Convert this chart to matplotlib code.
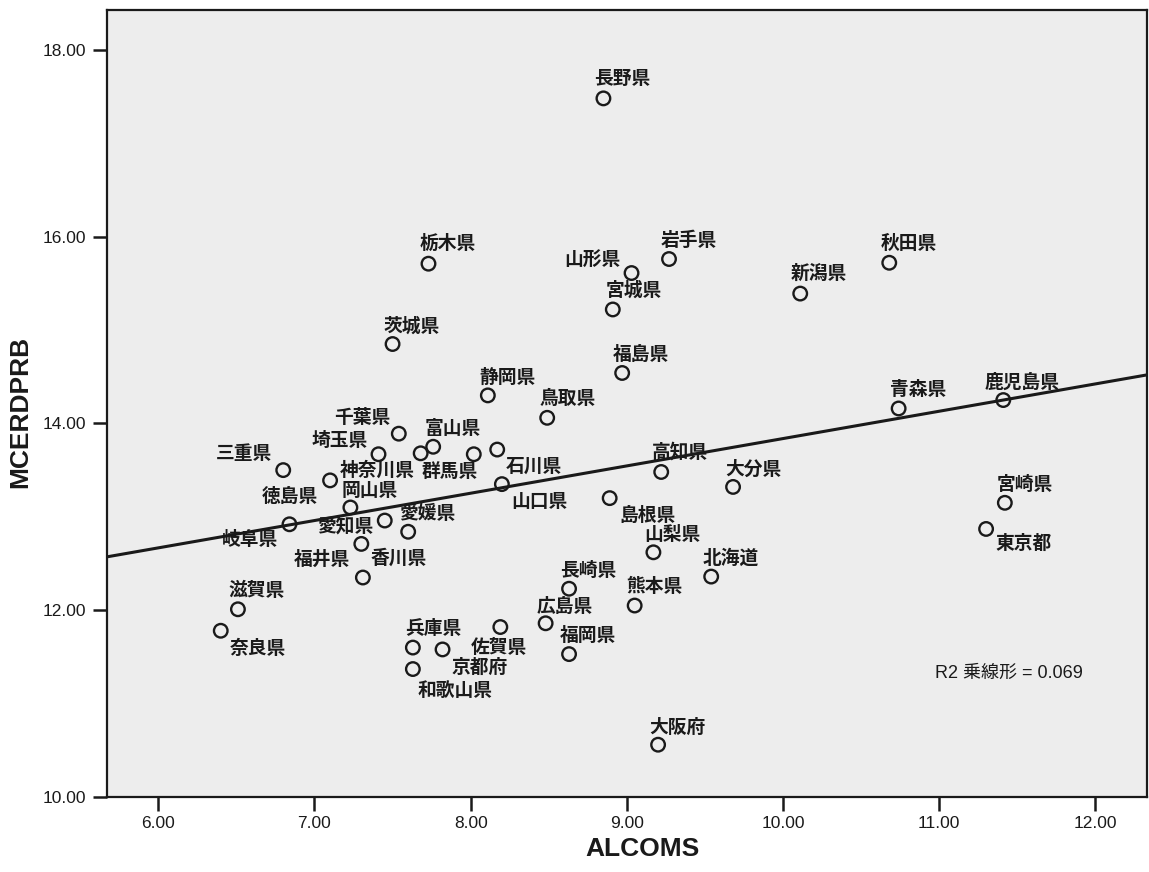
import numpy as np
import matplotlib.pyplot as plt

# -------------------------------------------
# Data: prefecture, ALCOMS (x), MCERDPRB (y)
# -------------------------------------------
prefectures = [
    '長野県', '栃木県', '山形県', '岩手県', '宮城県', '新潟県', '秋田県', '茨城県',
    '福島県', '静岡県', '鳥取県', '青森県', '鹿児島県', '千葉県', '富山県', '神奈川県',
    '埼玉県', '群馬県', '石川県', '三重県', '徳島県', '岡山県', '岐阜県', '愛知県',
    '愛媛県', '福井県', '香川県', '山口県', '高知県', '大分県', '島根県', '山梨県',
    '北海道', '宮崎県', '東京都', '長崎県', '熊本県', '広島県', '福岡県', '滋賀県',
    '奈良県', '兵庫県', '京都府', '佐賀県', '和歌山県', '大阪府',
]
alcoms = [
    8.85, 7.73, 9.03, 9.27, 8.91, 10.11, 10.68, 7.50,
    8.97, 8.11, 8.49, 10.74, 11.41, 7.54, 7.76, 7.68,
    7.41, 8.02, 8.17, 6.80, 7.10, 7.23, 6.84, 7.45,
    7.60, 7.30, 7.31, 8.20, 9.22, 9.68, 8.89, 9.17,
    9.54, 11.42, 11.30, 8.63, 9.05, 8.48, 8.63, 6.51,
    6.40, 7.63, 7.82, 8.19, 7.63, 9.20,
]
mcerdprb = [
    17.48, 15.71, 15.61, 15.76, 15.22, 15.39, 15.72, 14.85,
    14.54, 14.30, 14.06, 14.16, 14.25, 13.89, 13.75, 13.68,
    13.67, 13.67, 13.72, 13.50, 13.39, 13.10, 12.92, 12.96,
    12.84, 12.71, 12.35, 13.35, 13.48, 13.32, 13.20, 12.62,
    12.36, 13.15, 12.87, 12.23, 12.05, 11.86, 11.53, 12.01,
    11.78, 11.60, 11.58, 11.82, 11.37, 10.56,
]
x_ticks = [6, 7, 8, 9, 10, 11, 12]
y_ticks = [10, 12, 14, 16, 18]
r2_text = 'R2 乗線形 = 0.069'

# label offsets from the marker, in pixels (dx right, dy down)
label_offsets = {
    '長野県': (19, -20), '栃木県': (19, -20), '山形県': (-39, -14), '岩手県': (20, -19),
    '宮城県': (21, -19), '新潟県': (19, -20), '秋田県': (20, -19), '茨城県': (19, -18),
    '福島県': (19, -18), '静岡県': (20, -18), '鳥取県': (20, -19), '青森県': (19, -19),
    '鹿児島県': (19, -18), '千葉県': (-37, -16), '富山県': (20, -18), '神奈川県': (-43, 17),
    '埼玉県': (-39, -14), '群馬県': (-24, 17), '石川県': (37, 17), '三重県': (-39, -17),
    '徳島県': (-40, 16), '岡山県': (19, -17), '岐阜県': (-39, 15), '愛知県': (-40, 5),
    '愛媛県': (19, -18), '福井県': (-39, 15), '香川県': (36, -19), '山口県': (37, 17),
    '高知県': (19, -20), '大分県': (20, -18), '島根県': (38, 17), '山梨県': (19, -18),
    '北海道': (20, -18), '宮崎県': (20, -18), '東京都': (37, 15), '長崎県': (19, -18),
    '熊本県': (20, -19), '広島県': (19, -17), '福岡県': (19, -19), '滋賀県': (19, -19),
    '奈良県': (37, 18), '兵庫県': (20, -19), '京都府': (37, 18), '佐賀県': (-1, 20),
    '和歌山県': (42, 21), '大阪府': (19, -17),
}

plt.rcParams['font.family'] = ['Liberation Sans', 'Noto Sans CJK JP']

fig = plt.figure(figsize=(11.49, 8.72), dpi=100)
ax = fig.add_axes([0.0931, 0.0860, 0.9051, 0.9025])
ax.set_facecolor('#ededed')

x = np.array(alcoms)
y = np.array(mcerdprb)

ax.scatter(x, y, s=95, facecolors='none', edgecolors='#1a1a1a', linewidths=1.7, zorder=3)

# linear fit line
slope, intercept = np.polyfit(x, y, 1)
xl = np.array([5.6716, 12.3297])
ax.plot(xl, intercept + slope * xl, color='#1a1a1a', lw=2.2, zorder=2)

px = 0.72
for name, xi, yi in zip(prefectures, alcoms, mcerdprb):
    dx, dy = label_offsets[name]
    ax.annotate(name, (xi, yi), xytext=(dx * px, -dy * px), textcoords='offset points',
                ha='center', va='center', fontsize=13.5, fontweight='bold',
                family=['Noto Sans CJK JP'], color='#1a1a1a', zorder=4)

ax.text(0.796, 0.157, r2_text, transform=ax.transAxes, ha='left', va='center',
        fontsize=13, color='#1a1a1a', family=['Liberation Sans', 'Noto Sans CJK JP'])

ax.set_xlim(5.6716, 12.3297)
ax.set_ylim(10, 18.426)
ax.set_xticks(x_ticks)
ax.set_xticklabels([f'{v:.2f}' for v in x_ticks])
ax.set_yticks(y_ticks)
ax.set_yticklabels([f'{v:.2f}' for v in y_ticks])
ax.tick_params(direction='out', length=10, width=1.8, labelsize=12.5, colors='#1a1a1a')
ax.tick_params(axis='x', pad=4)
ax.tick_params(axis='y', pad=5)

for sp in ax.spines.values():
    sp.set_linewidth(1.6)
    sp.set_color('#1a1a1a')

fig.text(0.559, 0.026, 'ALCOMS', ha='center', va='center', fontsize=19, fontweight='bold',
         color='#1a1a1a')
fig.text(0.0175, 0.528, 'MCERDPRB', ha='center', va='center', rotation=90, fontsize=19,
         fontweight='bold', color='#1a1a1a')

fig.savefig('out.png', dpi=100)
